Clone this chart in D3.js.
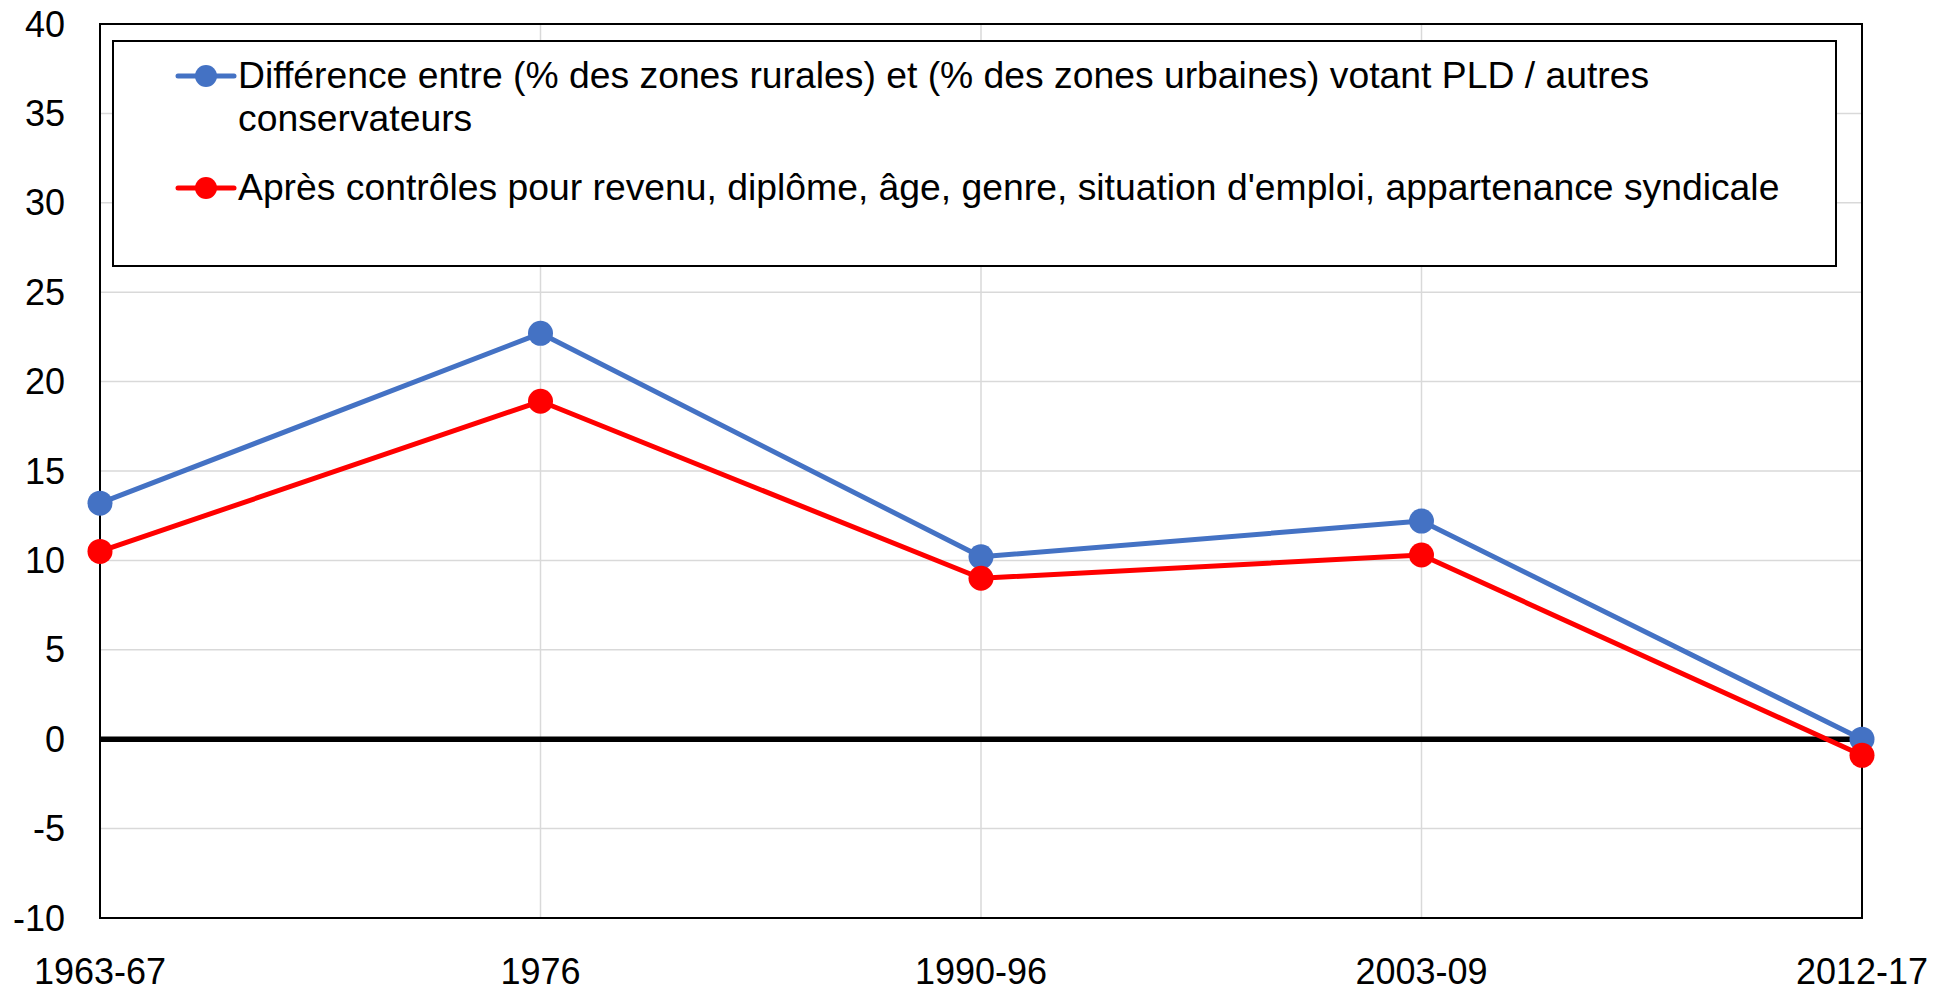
<!DOCTYPE html>
<meta charset="utf-8">
<style>
body { margin: 0; background: #fff; }
text { font-family: "Liberation Sans", Arial, sans-serif; fill: #000; }
.grid line { stroke: #d9d9d9; stroke-width: 1.5px; }
</style>
<body>
<div id="chart"></div>
<script src="https://d3js.org/d3.v7.min.js"></script>
<script>

// data
var periods = ["1963-67", "1976", "1990-96", "2003-09", "2012-17"];
var ruralUrban = [13.2, 22.7, 10.2, 12.2, 0.0];
var afterControls = [10.5, 18.9, 9.0, 10.3, -0.9];
var yTicks = [-10, -5, 0, 5, 10, 15, 20, 25, 30, 35, 40];

var seriesNames = [
  ["Différence entre (% des zones rurales) et (% des zones urbaines) votant PLD / autres", "conservateurs"],
  ["Après contrôles pour revenu, diplôme, âge, genre, situation d'emploi, appartenance syndicale"]
];
var colors = ["#4472C4", "#FF0000"];

var width = 1955, height = 992;
var plotLeft = 100, plotRight = 1862, plotTop = 24, plotBottom = 918;

var svg = d3.select("#chart").append("svg")
    .attr("width", width)
    .attr("height", height);

var x = d3.scalePoint().domain(periods).range([plotLeft, plotRight]);
var y = d3.scaleLinear().domain([-10, 40]).range([plotBottom, plotTop]);

// gridlines
var grid = svg.append("g").attr("class", "grid");
grid.selectAll(".h").data(yTicks.filter(function(d){ return d > -10 && d < 40; }))
  .enter().append("line")
    .attr("x1", plotLeft).attr("x2", plotRight)
    .attr("y1", function(d){ return y(d); })
    .attr("y2", function(d){ return y(d); });
grid.selectAll(".v").data(periods.slice(1, -1))
  .enter().append("line")
    .attr("y1", plotTop).attr("y2", plotBottom)
    .attr("x1", function(d){ return x(d); })
    .attr("x2", function(d){ return x(d); });

// zero line
svg.append("line")
    .attr("x1", plotLeft).attr("x2", plotRight)
    .attr("y1", y(0)).attr("y2", y(0))
    .attr("stroke", "#000").attr("stroke-width", 5.5);

// frame
svg.append("rect")
    .attr("x", plotLeft).attr("y", plotTop)
    .attr("width", plotRight - plotLeft).attr("height", plotBottom - plotTop)
    .attr("fill", "none").attr("stroke", "#000").attr("stroke-width", 2);

// axis labels
svg.append("g").selectAll("text").data(yTicks).enter().append("text")
    .attr("x", 65)
    .attr("y", function(d){ return y(d); })
    .attr("dy", "0.35em")
    .attr("text-anchor", "end")
    .style("font-size", "36px")
    .text(function(d){ return d; });

svg.append("g").selectAll("text").data(periods).enter().append("text")
    .attr("x", function(d){ return x(d); })
    .attr("y", 984)
    .attr("text-anchor", "middle")
    .style("font-size", "36px")
    .text(function(d){ return d; });

// series
var line = d3.line()
    .x(function(d, i){ return x(periods[i]); })
    .y(function(d){ return y(d); });

[ruralUrban, afterControls].forEach(function(vals, k) {
  svg.append("path")
      .datum(vals)
      .attr("d", line)
      .attr("fill", "none")
      .attr("stroke", colors[k])
      .attr("stroke-width", 5)
      .attr("stroke-linejoin", "round");
  svg.append("g").selectAll("circle").data(vals).enter().append("circle")
      .attr("cx", function(d, i){ return x(periods[i]); })
      .attr("cy", function(d){ return y(d); })
      .attr("r", 12.5)
      .attr("fill", colors[k]);
});

// legend
var legend = svg.append("g");
legend.append("rect")
    .attr("x", 113).attr("y", 41)
    .attr("width", 1836 - 113).attr("height", 266 - 41)
    .attr("fill", "#fff").attr("stroke", "#000").attr("stroke-width", 2);

var legendY = [76, 188];
seriesNames.forEach(function(lines, k) {
  var g = legend.append("g");
  g.append("line")
      .attr("x1", 178).attr("x2", 234)
      .attr("y1", legendY[k]).attr("y2", legendY[k])
      .attr("stroke", colors[k]).attr("stroke-width", 5)
      .attr("stroke-linecap", "round");
  g.append("circle")
      .attr("cx", 206).attr("cy", legendY[k])
      .attr("r", 11).attr("fill", colors[k]);
  lines.forEach(function(t, j) {
    g.append("text")
        .attr("x", 238)
        .attr("y", legendY[k] + 12 + j * 43)
        .style("font-size", "37.3px")
        .text(t);
  });
});

</script>
</body>
